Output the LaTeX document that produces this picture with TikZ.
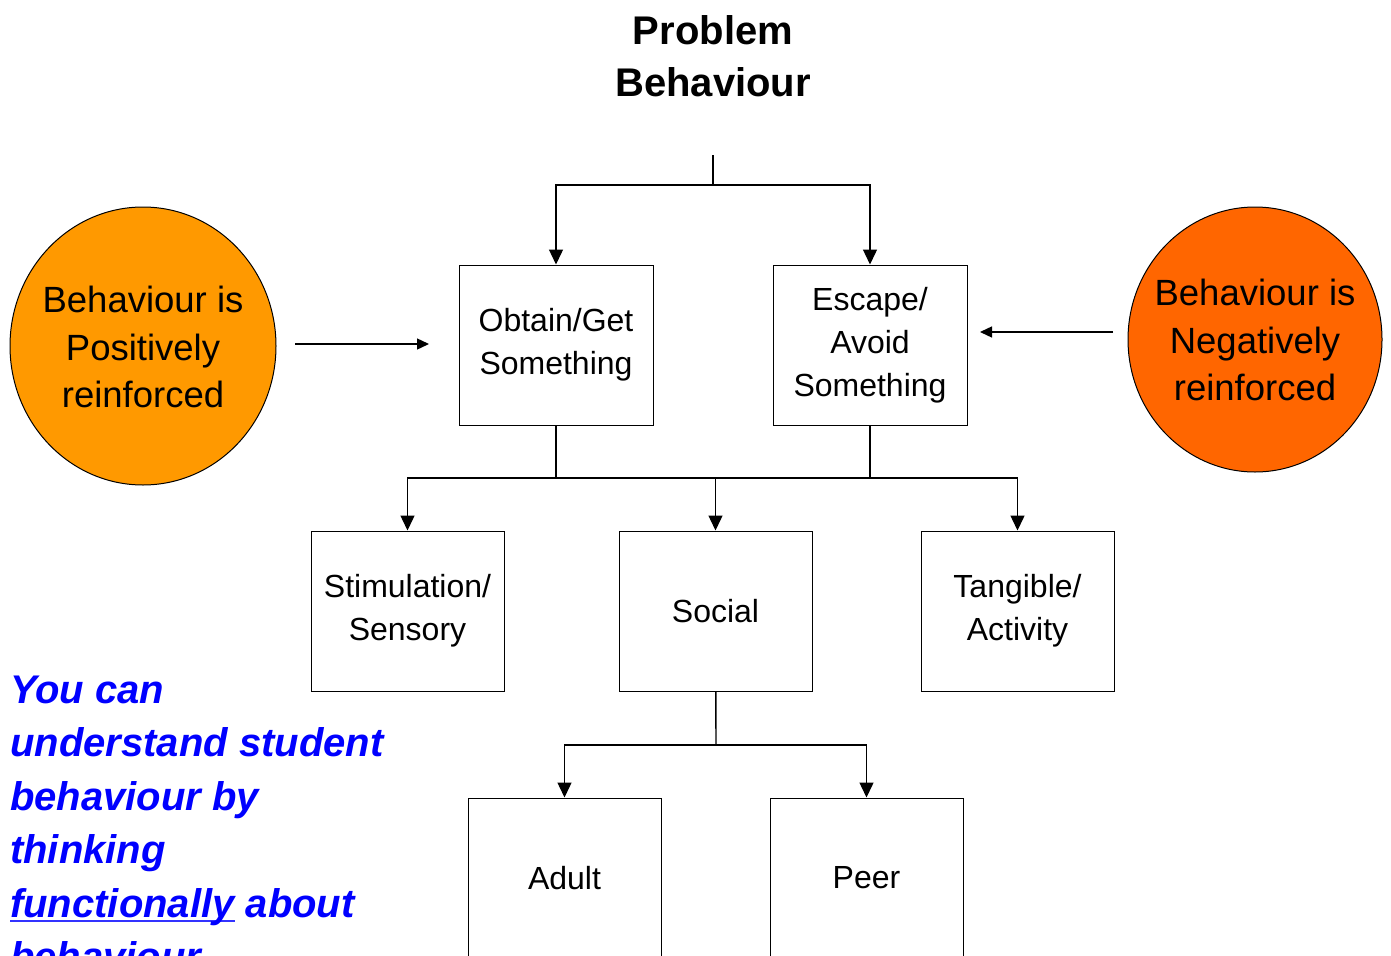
\documentclass[tikz,border=0pt]{standalone}
\usepackage{fontspec}
\setmainfont{Liberation Sans}
\usetikzlibrary{arrows.meta,shapes.geometric}
\definecolor{posorange}{HTML}{FF9900}
\definecolor{negorange}{HTML}{FF6600}
\definecolor{msgblue}{HTML}{0000FF}
\newcommand\myuline[1]{\setbox0\hbox{#1}\rlap{\color{msgblue!80!white}\rule[-5pt]{\wd0}{2pt}}\box0\relax}
\begin{document}
\begin{tikzpicture}[x=1pt,y=-1pt,
  fbox/.style={draw=black,line width=1pt,minimum width=194pt,minimum height=160pt,inner sep=0pt,align=center,font=\fontsize{32}{43}\selectfont},
  circtext/.style={align=center,font=\fontsize{36.5}{47.5}\selectfont},
  conn/.style={line width=1.4pt,draw=black},
  arr/.style={conn,-{Triangle[length=15pt,width=14pt]}},
  sidearr/.style={conn,-{Triangle[length=12pt,width=11pt]}}
]
\useasboundingbox (0,0) rectangle (1391,955);
\clip (0,0) rectangle (1391,955);
\fill[white] (0,0) rectangle (1391,955);

% title
\node[align=center,font=\bfseries\fontsize{40}{52}\selectfont,anchor=base] (title) at (713,97) {Problem\\Behaviour};

% circles
\path[draw=black,line width=1pt,fill=posorange] (143,346) ellipse [x radius=133pt,y radius=139pt];
\node[circtext] (pos) at (143,347) {Behaviour is\\Positively\\reinforced};
\path[draw=black,line width=1pt,fill=negorange] (1255,339.5) ellipse [x radius=127pt,y radius=132.5pt];
\node[circtext] (neg) at (1255,340) {Behaviour is\\Negatively\\reinforced};

% boxes
\node[fbox] (obtain) at (556,345) {Obtain/Get\\Something};
\node[fbox] (escape) at (870,345) {Escape/\\Avoid\\Something};
\node[fbox,minimum width=193pt] (stim) at (407.5,611) {Stimulation/\\Sensory};
\node[fbox,minimum width=193pt] (social) at (715.5,611) {Social};
\node[fbox,minimum width=193pt] (tangible) at (1017.5,611) {Tangible/\\Activity};
\node[fbox,minimum width=193pt] (adult) at (564.5,878) {Adult};
\node[fbox,minimum width=193pt] (peer) at (866.5,878) {Peer};

% connector coordinates
\coordinate (t0) at (713,155);
\coordinate (j0) at (713,185);
\coordinate (j1) at (556,478);
\coordinate (j2) at (870,478);
\coordinate (j3) at (716,745);
\coordinate (pa) at (295,344);
\coordinate (pb) at (429,344);
\coordinate (na) at (1113,332);
\coordinate (nb) at (980,332);

\draw[conn] (t0) -- (j0);
\draw[arr] (j0) -| (obtain);
\draw[arr] (j0) -| (escape);
\draw[conn] (obtain) -- (j1);
\draw[conn] (escape) -- (j2);
\draw[conn] (j1) -- (j2);
\draw[arr] (j1) -| (stim);
\draw[arr] (j1) -| (social);
\draw[arr] (j2) -| (tangible);
\draw[conn] (social) -- (j3);
\draw[arr] (j3) -| (adult);
\draw[arr] (j3) -| (peer);
\draw[sidearr] (pa) -- (pb);
\draw[sidearr] (na) -- (nb);

% message
\node[align=left,anchor=base west,text=msgblue,font=\bfseries\itshape\fontsize{40}{53.5}\selectfont,inner sep=0pt] (msg) at (10,970.5)
 {You can\\understand student\\behaviour by\\thinking\\\myuline{functionally} about\\behaviour};
\end{tikzpicture}
\end{document}
